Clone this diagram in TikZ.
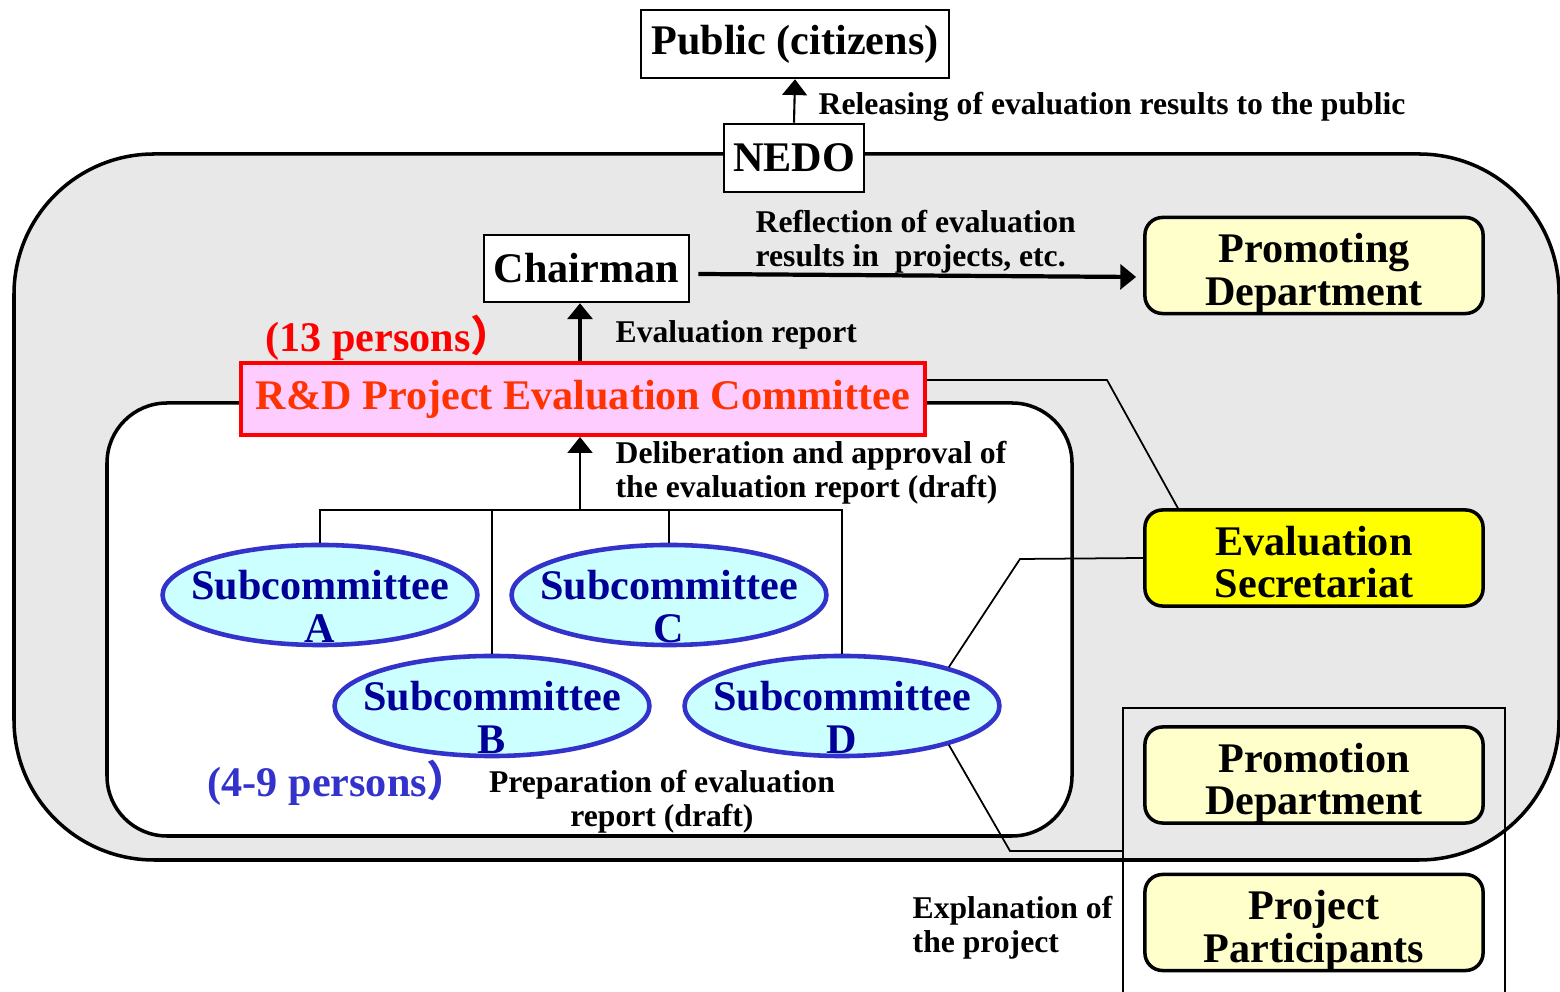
\documentclass[tikz,border=0pt]{standalone}
\usepackage{fontspec}
\setmainfont{Liberation Serif}
\newfontfamily\cjk{Noto Sans CJK JP}
\usetikzlibrary{arrows.meta,shapes.geometric}

\definecolor{panelgray}{HTML}{E8E8E8}
\definecolor{paleyellow}{HTML}{FFFFCC}
\definecolor{brightyellow}{HTML}{FFFF00}
\definecolor{pinkfill}{HTML}{FFCCFF}
\definecolor{cyanfill}{HTML}{CCFFFF}
\definecolor{subblue}{HTML}{3333CC}
\definecolor{navy}{HTML}{000099}
\definecolor{ctteered}{HTML}{FF3300}

\newcommand{\twolines}[3][10.5pt]{\rule{0pt}{#1}#2\\\smash{#3}}
\newcommand{\fwparen}{{\cjk ）}}

\begin{document}
\begin{tikzpicture}[x=0.01cm,y=-0.01cm]
  \useasboundingbox (0,0) rectangle (1560,992);

  \tikzstyle{BoxStyle}=[draw,line width=0.7pt,fill=white,inner sep=0pt,
                        font=\bfseries\fontsize{12}{12.2}\selectfont]
  \tikzstyle{DeptStyle}=[draw,line width=1pt,rounded corners=5pt,inner sep=0pt,
                         minimum width=3.38cm,minimum height=0.96cm,align=center,
                         font=\bfseries\fontsize{12}{12.2}\selectfont]
  \tikzstyle{SubStyle}=[ellipse,draw=subblue,line width=1.3pt,fill=cyanfill,text=navy,
                        inner xsep=-5pt,inner ysep=-4pt,minimum width=3.14cm,
                        minimum height=1.0cm,align=center,
                        font=\bfseries\fontsize{12}{12.2}\selectfont]
  \tikzstyle{NoteStyle}=[inner sep=0pt,align=left,
                         font=\bfseries\fontsize{9}{9.4}\selectfont]
  \tikzstyle{ThinLine}=[line width=0.5pt]
  \tikzstyle{ThinArrow}=[line width=0.6pt,-{Triangle[width=7pt,length=4.5pt]}]
  \tikzstyle{BoldArrow}=[line width=1.2pt,-{Triangle[width=7pt,length=4.5pt]}]

  % panels
  \draw[line width=1pt,fill=panelgray,rounded corners=1.4cm] (14,154) rectangle (1559,860);
  \draw[line width=1pt,fill=white,rounded corners=0.6cm] (107,403) rectangle (1072,836);
  \draw[ThinLine] (1123,1000) -- (1123,708) -- (1505,708) -- (1505,1000);
  \coordinate (frameW) at (1123,851);

  % boxes
  \node[BoxStyle,minimum width=3.08cm,minimum height=0.68cm] (public) at (795,44) {Public (citizens)};
  \node[BoxStyle,minimum width=1.40cm,minimum height=0.68cm] (nedo) at (794,158) {NEDO};
  \node[BoxStyle,minimum width=2.05cm,minimum height=0.67cm] (chair) at (586.5,268.5) {Chairman};
  \node[BoxStyle,draw=red,line width=1.1pt,fill=pinkfill,text=ctteered,
        minimum width=6.84cm,minimum height=0.72cm] (cttee) at (583,399)
        {R\&D Project Evaluation Committee};

  \node[DeptStyle,fill=paleyellow] (promo) at (1314,265.5) {\twolines{Promoting}{Department}};
  \node[DeptStyle,fill=brightyellow] (secr) at (1314,558) {\twolines{Evaluation}{Secretariat}};
  \node[DeptStyle,fill=paleyellow] (prodept) at (1314,775) {\twolines{Promotion}{Department}};
  \node[DeptStyle,fill=paleyellow] (partic) at (1314,922.5) {\twolines{Project}{Participants}};

  % subcommittees
  \node[SubStyle] (subA) at (320,595) {\twolines[15pt]{Subcommittee}{A}};
  \node[SubStyle] (subC) at (669,595) {\twolines[15pt]{Subcommittee}{C}};
  \node[SubStyle] (subB) at (492,706) {\twolines[15pt]{Subcommittee}{B}};
  \node[SubStyle] (subD) at (842,706) {\twolines[15pt]{Subcommittee}{D}};
  \coordinate (bar) at (580,510);

  % labels
  \node[NoteStyle,anchor=base west] (release) at (818,115) {Releasing of evaluation results to the public};
  \node[NoteStyle,anchor=north west] (reflect) at (755,210) {Reflection of evaluation\\results in\ \ projects, etc.};
  \node[NoteStyle,anchor=base west] (report) at (615,343) {Evaluation report};
  \node[NoteStyle,anchor=north west] (deliber) at (615,441) {Deliberation and approval of\\the evaluation report (draft)};
  \node[NoteStyle,anchor=north,align=center] (prepare) at (662,770) {Preparation of evaluation\\report (draft)};
  \node[NoteStyle,anchor=north west] (explain) at (912,896) {Explanation of\\the project};
  \node[inner sep=0pt,anchor=base west,text=red,font=\bfseries\fontsize{12}{12.2}\selectfont]
    (members) at (265,352) {(13 persons\fwparen};
  \node[inner sep=0pt,anchor=base west,text=subblue,font=\bfseries\fontsize{12}{12.2}\selectfont]
    (submembers) at (207,797) {(4-9 persons\fwparen};

  % connectors
  \draw[ThinArrow] (nedo.north) -- (public.south);
  \draw[BoldArrow] ([xshift=0.08cm,yshift=-0.055cm]chair.east) -- ([xshift=-0.07cm,yshift=-0.115cm]promo.west);
  \draw[BoldArrow] (cttee.north -| bar) -- (chair.south -| bar);
  \draw[ThinArrow] (bar) -- (cttee.south -| bar);
  \draw[ThinLine] (subA.north) |- (bar) -| (subD.north);
  \draw[ThinLine] (subB.north) -- (subB.north |- bar);
  \draw[ThinLine] (subC.north) -- (subC.north |- bar);
  \draw[ThinLine] ([yshift=0.19cm]cttee.east) -- (1107,380) -- ([xshift=-1.36cm]secr.north);
  \draw[ThinLine] (secr.west) -- (1020,559) -- (subD.20);
  \draw[ThinLine] (subD.-20) -- (1010,851) -- (frameW);
\end{tikzpicture}
\end{document}
